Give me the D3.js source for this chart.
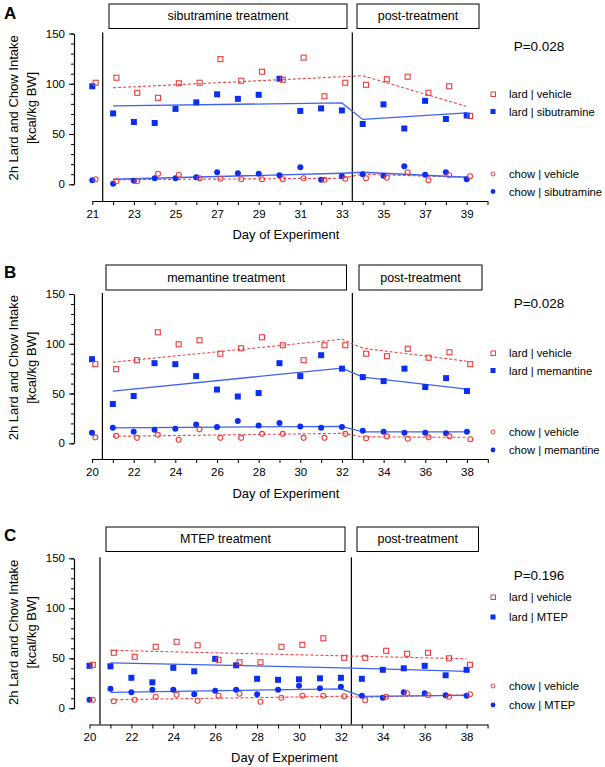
<!DOCTYPE html>
<html><head><meta charset="utf-8">
<script src="https://cdn.jsdelivr.net/npm/d3@7"></script>
<style>body{margin:0;background:#fff} svg{display:block;font-family:"Liberation Sans",Arial,Helvetica,sans-serif}</style>
</head><body><svg id="c" width="605" height="767"></svg>
<script>
// ---------- DATA ----------
const yTicksMajor = [0, 50, 100, 150];

// Panel A: sibutramine
const daysA = [21,22,23,24,25,26,27,28,29,30,31,32,33,34,35,36,37,38,39];
const lardVehA = [101,106,91,86,100.5,101,124.5,103,112,104,126,87.5,101,99,104.5,107,91,97.5,68];
const lardDrugA = [97.5,70.5,62,61,75,81.5,89.5,85,89,105,73,75.5,73.5,60,79.5,55.5,83,65,68.5];
const chowVehA = [5,3,3,10.5,9.5,6,5.5,5,5,5,6,4.5,5.5,6,6.5,12,4,9,8];
const chowDrugA = [4,0.5,3.5,6,6,7,12,11,10.5,9,17,4.5,8,10,8.5,18,9.5,12,5];
const fitDaysA = [22,33,34,39];
const fitLardVehA = [96,107,108,77.5];
const fitLardDrugA = [78,81,64.5,71];
const fitChowVehA = [4.5,6,10,7];
const fitChowDrugA = [5,11,12,7];

// Panel B: memantine
const daysB = [20,21,22,23,24,25,26,27,28,29,30,31,32,33,34,35,36,37,38];
const lardVehB = [79.5,74.5,83.5,111.5,99.5,103.5,90,95.5,106.5,98.5,83.5,98.5,98.5,90,87.5,95,86,91.5,79.5];
const lardDrugB = [84.5,39.5,47.5,80.5,79.5,67.5,54,47,50.5,80.5,67.5,88.5,75,66.5,62.5,75,56.5,65.5,52.5];
const chowVehB = [6,7.5,5.5,8.5,3.5,14,5.5,5.5,9.5,9.5,5.5,5.5,9.5,5,7,4.5,6,7,4];
const chowDrugB = [10.5,15.5,11.5,13.5,14.5,19,16.5,22.5,18,20.5,17,15.5,16.5,12.5,11.5,10.5,10.5,10,11.5];
const fitDaysB = [21,32,33,38];
const fitLardVehB = [81.5,104.5,95.5,82.5];
const fitLardDrugB = [52.5,75.5,66.5,54.5];
const fitChowVehB = [7,10,6.5,6];
const fitChowDrugB = [15.5,17,11.5,11.5];

// Panel C: MTEP
const daysC = [20,21,22,23,24,25,26,27,28,29,30,31,32,33,34,35,36,37,38];
const lardVehC = [43.5,55.5,51.5,61.5,66.5,63,48.5,46,46,61.5,63.5,70,50.5,50.5,57.5,54.5,55.5,50,43.5];
const lardDrugC = [42.5,42,30.5,26,40.5,37,49.5,43,29.5,28.5,29,30,30.5,29.5,38.5,40,42.5,33,38.5];
const chowVehC = [8.5,7,8.5,11.5,13.5,7.5,12.5,14.5,6.5,10.5,12.5,12.5,12,8,11.5,15,13,11.5,14];
const chowDrugC = [8.5,19.5,16,18.5,18.5,14,17.5,18.5,14,18.5,22.5,20,21.5,12.5,10.5,16,15,13,12.5];
const fitDaysC = [21,32,33,38];
const fitLardVehC = [58,52.5,52,49.5];
const fitLardDrugC = [45.5,40.5,40,37];
const fitChowVehC = [8.5,12,11,13.5];
const fitChowDrugC = [16,19.5,12,13];

const panelLetters = ["A","B","C"];
const drugNames = ["sibutramine","memantine","MTEP"];
const pValues = ["P=0.028","P=0.028","P=0.196"];
const xTitle = "Day of Experiment";
const yTitle1 = "2h Lard and Chow Intake";
const yTitle2 = "[kcal/kg BW]";
const postLabel = "post-treatment";

// ---------- LAYOUT ----------
const RED = "#ef3b3b", BLUE = "#0a2ef2", BLUE_LINE = "#4063ee", RED_LINE = "#f04545";
const svg = d3.select("#c");

const panels = [
  {letter:panelLetters[0], drug:drugNames[0], p:pValues[0], days:daysA, lv:lardVehA, ld:lardDrugA, cv:chowVehA, cd:chowDrugA,
   fd:fitDaysA, flv:fitLardVehA, fld:fitLardDrugA, fcv:fitChowVehA, fcd:fitChowDrugA,
   d0:21, dEnd:40, x0:92.3, step:20.8, y150:33.5, y0:184.3, axY:201, v:[21.5,33.5],
   box1:[109,4,347,28.5], box2:[357,4,479,28.5], pY:46, leg:[94,111.5,174,191.5], letterY:19, xtY:239},
  {letter:panelLetters[1], drug:drugNames[1], p:pValues[1], days:daysB, lv:lardVehB, ld:lardDrugB, cv:chowVehB, cd:chowDrugB,
   fd:fitDaysB, flv:fitLardVehB, fld:fitLardDrugB, fcv:fitChowVehB, fcd:fitChowDrugB,
   d0:20, dEnd:39, x0:92, step:20.83, y150:294, y0:443.3, axY:459, v:[20.5,32.5],
   box1:[106,265,346.5,290], box2:[359,265,482,290], pY:303, leg:[353,370.5,432,450], letterY:278, xtY:498},
  {letter:panelLetters[2], drug:drugNames[2], p:pValues[2], days:daysC, lv:lardVehC, ld:lardDrugC, cv:chowVehC, cd:chowDrugC,
   fd:fitDaysC, flv:fitLardVehC, fld:fitLardDrugC, fcv:fitChowVehC, fcd:fitChowDrugC,
   d0:20, dEnd:39, x0:89.5, step:20.95, y150:558.3, y0:708.3, axY:724.5, v:[20.5,32.5],
   box1:[106,527,345,551.5], box2:[357,527,478.5,551.5], pY:575, leg:[597,617,686,705], letterY:541, xtY:762}
];

panels.forEach(drawPanel);

function drawPanel(c){
  const g = svg.append("g");
  const x = d3.scaleLinear().domain([c.d0, c.dEnd]).range([c.x0, c.x0 + (c.dEnd - c.d0) * c.step]);
  const y = d3.scaleLinear().domain([0,150]).range([c.y0, c.y150]);
  const axX = 74;

  // panel letter
  g.append("text").attr("x",4).attr("y",c.letterY).attr("font-size",17).attr("font-weight","bold").text(c.letter);

  // y axis minor
  g.append("g").attr("transform",`translate(${axX},0)`)
    .call(d3.axisLeft(y).tickValues(d3.range(0,151,10)).tickSize(3).tickFormat(""))
    .call(a=>a.select(".domain").remove())
    .call(a=>a.selectAll("line").attr("stroke","#000"));
  // y axis major
  g.append("g").attr("transform",`translate(${axX},0)`)
    .call(d3.axisLeft(y).tickValues(yTicksMajor).tickSize(5).tickSizeOuter(0).tickPadding(4))
    .call(a=>a.select(".domain").attr("stroke","#000").attr("stroke-width",1.2))
    .call(a=>a.selectAll("text").attr("font-size",11.5).attr("font-family","Liberation Sans, Arial, sans-serif").attr("fill","#000"));

  // x axis
  const xticks = d3.range(c.d0, c.dEnd + 1);
  g.append("g").attr("transform",`translate(0,${c.axY})`)
    .call(d3.axisBottom(x).tickValues(xticks).tickSize(4).tickSizeOuter(0).tickPadding(4.5)
      .tickFormat(d => ((d - c.d0) % 2 === 0 && d < c.dEnd) ? d : ""))
    .call(a=>a.select(".domain").attr("stroke","#000").attr("stroke-width",1.2))
    .call(a=>a.selectAll("text").attr("font-size",11.5).attr("font-family","Liberation Sans, Arial, sans-serif").attr("fill","#000"));

  // axis titles
  g.append("text").attr("x", (x(c.d0)+x(c.dEnd))/2 - 4).attr("y", c.xtY).attr("text-anchor","middle")
    .attr("font-size",13).text(xTitle);
  const yc = (c.y0 + c.y150)/2 - 1;
  g.append("text").attr("transform",`translate(13.5,${yc}) rotate(-90)`).attr("text-anchor","middle")
    .attr("dominant-baseline","central").attr("font-size",13).text(yTitle1);
  g.append("text").attr("transform",`translate(31,${yc}) rotate(-90)`).attr("text-anchor","middle")
    .attr("dominant-baseline","central").attr("font-size",13).text(yTitle2);

  // vertical phase lines
  c.v.forEach(d=>{
    g.append("line").attr("x1",x(d)).attr("x2",x(d)).attr("y1",c.y150 - 1).attr("y2",c.axY)
      .attr("stroke","#000").attr("stroke-width",1.2);
  });

  // header boxes
  [[c.box1, c.drug + " treatment"],[c.box2, postLabel]].forEach(([b,t])=>{
    g.append("rect").attr("x",b[0]).attr("y",b[1]).attr("width",b[2]-b[0]).attr("height",b[3]-b[1])
      .attr("fill","none").attr("stroke","#000").attr("stroke-width",1);
    g.append("text").attr("x",(b[0]+b[2])/2).attr("y",(b[1]+b[3])/2).attr("text-anchor","middle")
      .attr("dominant-baseline","central").attr("font-size",12.5).text(t);
  });

  // P value
  g.append("text").attr("x",539).attr("y",c.pY).attr("text-anchor","middle").attr("dominant-baseline","central")
    .attr("font-size",13.5).text(c.p);

  // fit lines
  const line = d3.line().x(d=>x(d[0])).y(d=>y(d[1]));
  const fit = (vals, color, dashed) => g.append("path")
    .attr("d", line(c.fd.map((d,i)=>[d, vals[i]])))
    .attr("fill","none").attr("stroke",color).attr("stroke-width",dashed?1.1:1.3)
    .attr("stroke-dasharray", dashed ? "3,2" : null);
  fit(c.flv, RED_LINE, true);
  fit(c.fld, BLUE_LINE, false);
  fit(c.fcv, RED_LINE, true);
  fit(c.fcd, BLUE_LINE, false);

  const dodge = 0.16;
  // markers: drug (filled blue) and vehicle (open red)
  const sq = 6, r = 3;
  g.append("g").selectAll("rect").data(c.days.map((d,i)=>[d,c.ld[i]])).join("rect")
    .attr("x",d=>x(d[0])-sq/2).attr("y",d=>y(d[1])-sq/2).attr("width",sq).attr("height",sq).attr("fill",BLUE);
  g.append("g").selectAll("circle").data(c.days.map((d,i)=>[d,c.cd[i]])).join("circle")
    .attr("cx",d=>x(d[0])).attr("cy",d=>y(d[1])).attr("r",r).attr("fill",BLUE);
  g.append("g").selectAll("rect").data(c.days.map((d,i)=>[d,c.lv[i]])).join("rect")
    .attr("x",d=>x(d[0]+dodge)-(sq-1)/2).attr("y",d=>y(d[1])-(sq-1)/2).attr("width",sq-1).attr("height",sq-1)
    .attr("fill","#fff").attr("fill-opacity",0).attr("stroke",RED).attr("stroke-width",1.1);
  g.append("g").selectAll("circle").data(c.days.map((d,i)=>[d,c.cv[i]])).join("circle")
    .attr("cx",d=>x(d[0]+dodge)).attr("cy",d=>y(d[1])).attr("r",r-0.5)
    .attr("fill","none").attr("stroke",RED).attr("stroke-width",1.1);

  // legend
  const lx = 493, tx = 509;
  const labels = ["lard | vehicle", "lard | " + c.drug, "chow | vehicle", "chow | " + c.drug];
  g.append("rect").attr("x",lx-2).attr("y",c.leg[0]-2).attr("width",4.5).attr("height",4.5)
    .attr("fill","none").attr("stroke",RED).attr("stroke-width",1);
  g.append("rect").attr("x",lx-2.5).attr("y",c.leg[1]-2.5).attr("width",5).attr("height",5).attr("fill",BLUE);
  g.append("circle").attr("cx",lx).attr("cy",c.leg[2]).attr("r",2).attr("fill","none").attr("stroke",RED).attr("stroke-width",1);
  g.append("circle").attr("cx",lx).attr("cy",c.leg[3]).attr("r",2.4).attr("fill",BLUE);
  labels.forEach((t,i)=>{
    g.append("text").attr("x",tx).attr("y",c.leg[i]).attr("dominant-baseline","central")
      .attr("font-size",11.2).text(t);
  });
}
</script>
</body></html>
